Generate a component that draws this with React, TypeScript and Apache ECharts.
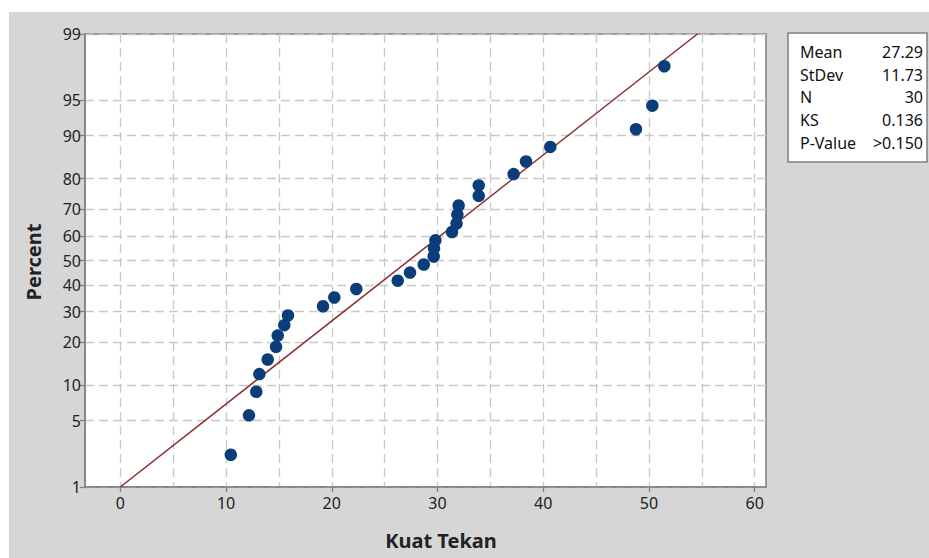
import React, { useEffect, useRef } from "react";
import * as echarts from "echarts";

const xValues = [10.45, 12.17, 12.86, 13.15, 13.94, 14.73, 14.89, 15.51, 15.86, 19.17, 20.24, 22.32, 26.24, 27.4, 28.7, 29.64, 29.67, 29.8, 31.37, 31.8, 31.88, 32.0, 33.9, 33.9, 37.2, 38.37, 40.67, 48.77, 50.32, 51.45];
const percentValues = [2.3, 5.59, 8.88, 12.17, 15.46, 18.75, 22.04, 25.33, 28.62, 31.91, 35.2, 38.49, 41.78, 45.07, 48.36, 51.64, 54.93, 58.22, 61.51, 64.8, 68.09, 71.38, 74.67, 77.96, 81.25, 84.54, 87.83, 91.12, 94.41, 97.7];
const percentTicks = [1, 5, 10, 20, 30, 40, 50, 60, 70, 80, 90, 95, 99];
const xTicks = [0, 10, 20, 30, 40, 50, 60];
const xGridValues = [0, 5, 10, 15, 20, 25, 30, 35, 40, 45, 50, 55, 60];
const statLabels = ["Mean", "StDev", "N", "KS", "P-Value"];
const statValues = ["27.29", "11.73", "30", "0.136", ">0.150"];
const MEAN = 27.29;
const SD = 11.73;
const X_MIN = -3.34;
const X_MAX = 61.07;

function probit(p: number): number {
  const a = [-3.969683028665376e1, 2.209460984245205e2, -2.759285104469687e2, 1.38357751867269e2, -3.066479806614716e1, 2.506628277459239];
  const b = [-5.447609879822406e1, 1.615858368580409e2, -1.556989798598866e2, 6.680131188771972e1, -1.328068155288572e1];
  const c = [-7.784894002430293e-3, -3.223964580411365e-1, -2.400758277161838, -2.549732539343734, 4.374664141464968, 2.938163982698783];
  const d = [7.784695709041462e-3, 3.224671290700398e-1, 2.445134137142996, 3.754408661907416];
  const pl = 0.02425;
  const ph = 1 - pl;
  if (p < pl) {
    const q = Math.sqrt(-2 * Math.log(p));
    return (((((c[0] * q + c[1]) * q + c[2]) * q + c[3]) * q + c[4]) * q + c[5]) / ((((d[0] * q + d[1]) * q + d[2]) * q + d[3]) * q + 1);
  }
  if (p <= ph) {
    const q = p - 0.5;
    const r = q * q;
    return ((((((a[0] * r + a[1]) * r + a[2]) * r + a[3]) * r + a[4]) * r + a[5]) * q) / (((((b[0] * r + b[1]) * r + b[2]) * r + b[3]) * r + b[4]) * r + 1);
  }
  const q = Math.sqrt(-2 * Math.log(1 - p));
  return -(((((c[0] * q + c[1]) * q + c[2]) * q + c[3]) * q + c[4]) * q + c[5]) / ((((d[0] * q + d[1]) * q + d[2]) * q + d[3]) * q + 1);
}

const FONT = "'Noto Sans', 'Open Sans', sans-serif";

export default function App() {
  const ref = useRef<HTMLDivElement>(null);
  useEffect(() => {
    if (!ref.current) return;
    const chart = echarts.init(ref.current, undefined, { renderer: "svg" });
    const yTickVals = percentTicks.map((p) => probit(p / 100));
    const Y_MIN = yTickVals[0];
    const Y_MAX = yTickVals[yTickVals.length - 1];
    const pointData = xValues.map((x, i) => [x, probit(percentValues[i] / 100)]);
    const zLo = probit(0.01);
    const zHi = probit(0.99);
    const lineData = [
      [MEAN + SD * zLo, zLo],
      [MEAN + SD * zHi, zHi],
    ];
    const labelFor = (v: number) => {
      let best = 0;
      let bd = Infinity;
      yTickVals.forEach((t, i) => {
        const dd = Math.abs(t - v);
        if (dd < bd) {
          bd = dd;
          best = i;
        }
      });
      return String(percentTicks[best]);
    };
    const gridLine = { show: true, lineStyle: { type: [9, 5], color: "#c8c8c8", width: 1.3 } };
    const rowY = [40, 62.5, 85, 108, 131];
    const statGraphics: any[] = [];
    statLabels.forEach((s, i) => {
      statGraphics.push({
        type: "text",
        x: 791,
        y: rowY[i],
        style: { text: s, font: `16px ${FONT}`, fill: "#111", textAlign: "left", textVerticalAlign: "middle" },
      });
      statGraphics.push({
        type: "text",
        x: 914,
        y: rowY[i],
        style: { text: statValues[i], font: `16px ${FONT}`, fill: "#111", textAlign: "right", textVerticalAlign: "middle" },
      });
    });
    chart.setOption({
      animation: false,
      backgroundColor: "#d6d6d6",
      textStyle: { fontFamily: FONT },
      grid: {
        left: 76,
        top: 22,
        width: 681,
        height: 453,
        show: true,
        backgroundColor: "#ffffff",
        borderColor: "#808080",
        borderWidth: 1.5,
      },
      xAxis: [
        {
          type: "value",
          min: X_MIN,
          max: X_MAX,
          position: "bottom",
          axisLine: { show: true, onZero: false, lineStyle: { color: "#808080", width: 1.5 } },
          axisTick: { show: true, length: 5, customValues: xTicks, lineStyle: { color: "#808080", width: 1.3 } },
          axisLabel: { customValues: xTicks, fontSize: 16, color: "#222", margin: 8, fontFamily: FONT },
          splitLine: { show: false },
        },
        {
          type: "value",
          min: X_MIN,
          max: X_MAX,
          position: "top",
          axisLine: { show: false },
          axisTick: { show: false, customValues: xGridValues },
          axisLabel: { show: false, customValues: xGridValues },
          splitLine: gridLine,
        },
      ],
      yAxis: {
        type: "value",
        min: Y_MIN,
        max: Y_MAX,
        axisLine: { show: true, onZero: false, lineStyle: { color: "#808080", width: 1.5 } },
        axisTick: { show: true, length: 5, customValues: yTickVals, lineStyle: { color: "#808080", width: 1.3 } },
        axisLabel: { customValues: yTickVals, formatter: labelFor, fontSize: 16, color: "#222", margin: 4, fontFamily: FONT },
        splitLine: gridLine,
      },
      series: [
        {
          type: "line",
          xAxisIndex: 0,
          data: lineData,
          symbol: "none",
          lineStyle: { color: "#8b2a2a", width: 1.5 },
          z: 2,
        },
        {
          type: "scatter",
          xAxisIndex: 0,
          data: pointData,
          symbolSize: 12.5,
          itemStyle: { color: "#0b3d7a", opacity: 1 },
          z: 3,
        },
      ],
      graphic: [
        {
          type: "rect",
          shape: { x: 779, y: 21, width: 139, height: 129 },
          style: { fill: "#ffffff", stroke: "#808080", lineWidth: 1.5 },
        },
        ...statGraphics,
        {
          type: "text",
          x: 432,
          y: 528,
          style: { text: "Kuat Tekan", font: `bold 20px ${FONT}`, fill: "#222", textAlign: "center", textVerticalAlign: "middle" },
        },
        {
          type: "text",
          x: 24,
          y: 250,
          rotation: Math.PI / 2,
          style: { text: "Percent", font: `bold 20px ${FONT}`, fill: "#222", textAlign: "center", textVerticalAlign: "middle" },
        },
      ],
    });
    return () => chart.dispose();
  }, []);
  return (
    <div style={{ position: "fixed", left: 0, top: 0, width: 929, height: 558, background: "#ffffff" }}>
      <div ref={ref} style={{ position: "absolute", left: 9, top: 12, width: 920, height: 546 }} />
    </div>
  );
}
